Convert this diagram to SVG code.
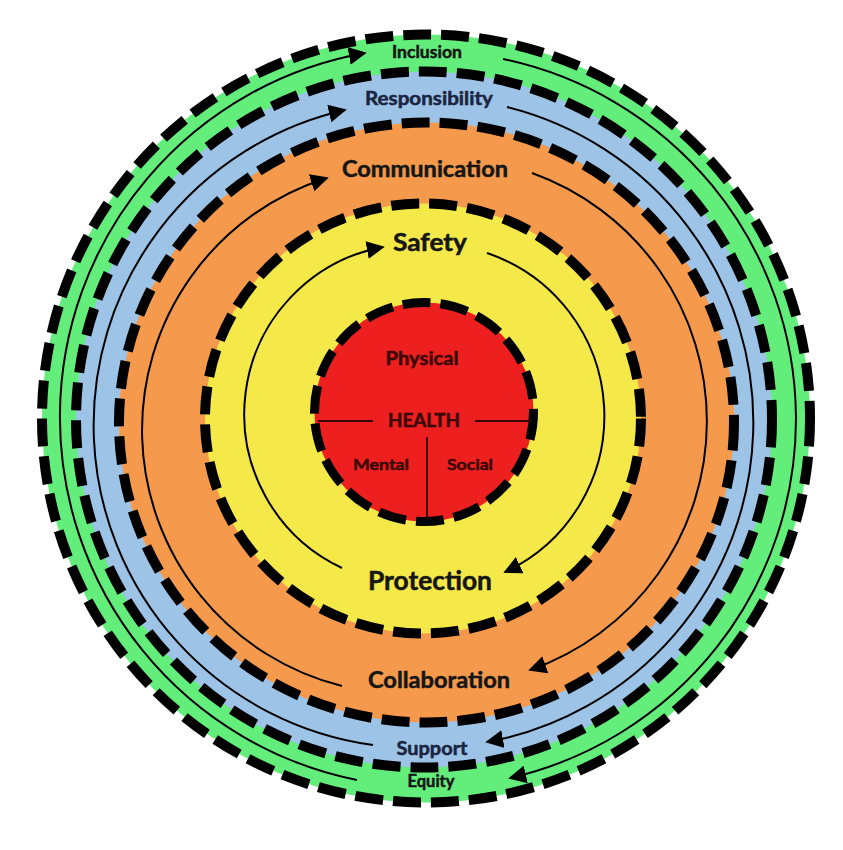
<svg xmlns="http://www.w3.org/2000/svg" width="843" height="850" viewBox="0 0 843 850">
<defs>
<style>
.ring{stroke:#000;stroke-width:10;stroke-dasharray:28 10;}
.lbl{font-family:Lato,Carlito,"Liberation Sans",sans-serif;font-weight:bold;text-anchor:middle;fill:#161616;stroke:#161616;stroke-width:0.5;}
.blueT{fill:#1b2440;stroke:#1b2440;}
.redT{fill:#3a0808;stroke:#3a0808;}
.arc{fill:none;stroke:#000;stroke-width:2;marker-end:url(#ah);}
.cut{stroke:#3a0808;stroke-width:2;}
</style>
<marker id="ah" viewBox="0 0 10 10" refX="9" refY="5" markerWidth="9" markerHeight="9" orient="auto" markerUnits="strokeWidth">
<path d="M0,0 L10,5 L0,10 z" fill="#000"/>
</marker>
</defs>
<rect width="843" height="850" fill="#fff"/>
<g id="inclusion-equity">
<circle class="ring" cx="426" cy="418.5" r="384" fill="#63ee7c"/>
<text class="lbl" x="427" y="57.5" font-size="16.5" textLength="70" lengthAdjust="spacingAndGlyphs">Inclusion</text>
<text class="lbl" x="431" y="787" font-size="16.5" textLength="47" lengthAdjust="spacingAndGlyphs">Equity</text>
</g>
<g id="responsibility-support">
<circle class="ring" cx="424" cy="419.5" r="348" fill="#9dc3e6"/>
<text class="lbl blueT" x="429" y="105" font-size="19" textLength="128" lengthAdjust="spacingAndGlyphs">Responsibility</text>
<text class="lbl blueT" x="432" y="755" font-size="18.5" textLength="71" lengthAdjust="spacingAndGlyphs">Support</text>
</g>
<g id="communication-collaboration">
<ellipse class="ring" cx="426.5" cy="422.5" rx="307.5" ry="300" fill="#f59a4c"/>
<text class="lbl" x="425" y="176.5" font-size="22" textLength="166" lengthAdjust="spacingAndGlyphs">Communication</text>
<text class="lbl" x="439" y="688" font-size="22" textLength="142" lengthAdjust="spacingAndGlyphs">Collaboration</text>
</g>
<g id="safety-protection">
<ellipse class="ring" cx="423" cy="418.5" rx="218" ry="215" fill="#f5e94a"/>
<text class="lbl" x="430" y="251" font-size="25" textLength="74" lengthAdjust="spacingAndGlyphs">Safety</text>
<text class="lbl" x="430" y="590" font-size="26" textLength="124" lengthAdjust="spacingAndGlyphs">Protection</text>
</g>
<g id="health">
<circle class="ring" cx="424" cy="412" r="109.5" fill="#ee1f1f" style="stroke-width:9"/>
<line class="cut" x1="318" y1="421" x2="373" y2="421"/>
<line class="cut" x1="475" y1="421" x2="531" y2="421"/>
<line class="cut" x1="427" y1="437" x2="427" y2="518"/>
<text class="lbl redT" x="422" y="365" font-size="18" textLength="73" lengthAdjust="spacingAndGlyphs">Physical</text>
<text class="lbl redT" x="424" y="426.5" font-size="18.5" textLength="72" lengthAdjust="spacingAndGlyphs">HEALTH</text>
<text class="lbl redT" x="381" y="470" font-size="16" textLength="56" lengthAdjust="spacingAndGlyphs">Mental</text>
<text class="lbl redT" x="470" y="470" font-size="16" textLength="46" lengthAdjust="spacingAndGlyphs">Social</text>
</g>
<g id="connectors">
<path class="arc" d="M357,780 A370,370 0 0 1 365,53"/>
<path class="arc" d="M503,59 A368,368 0 0 1 510,778"/>
<path class="arc" d="M373,745 A323,323 0 0 1 345,110"/>
<path class="arc" d="M507,107 A325,325 0 0 1 487,742"/>
<path class="arc" d="M342,686 A264,264 0 0 1 327,178"/>
<path class="arc" d="M532,173 A263.5,263.5 0 0 1 530,670"/>
<path class="arc" d="M342,568 A170,170 0 0 1 383,247"/>
<path class="arc" d="M487,253 A172,172 0 0 1 505,572"/>
</g>
</svg>
